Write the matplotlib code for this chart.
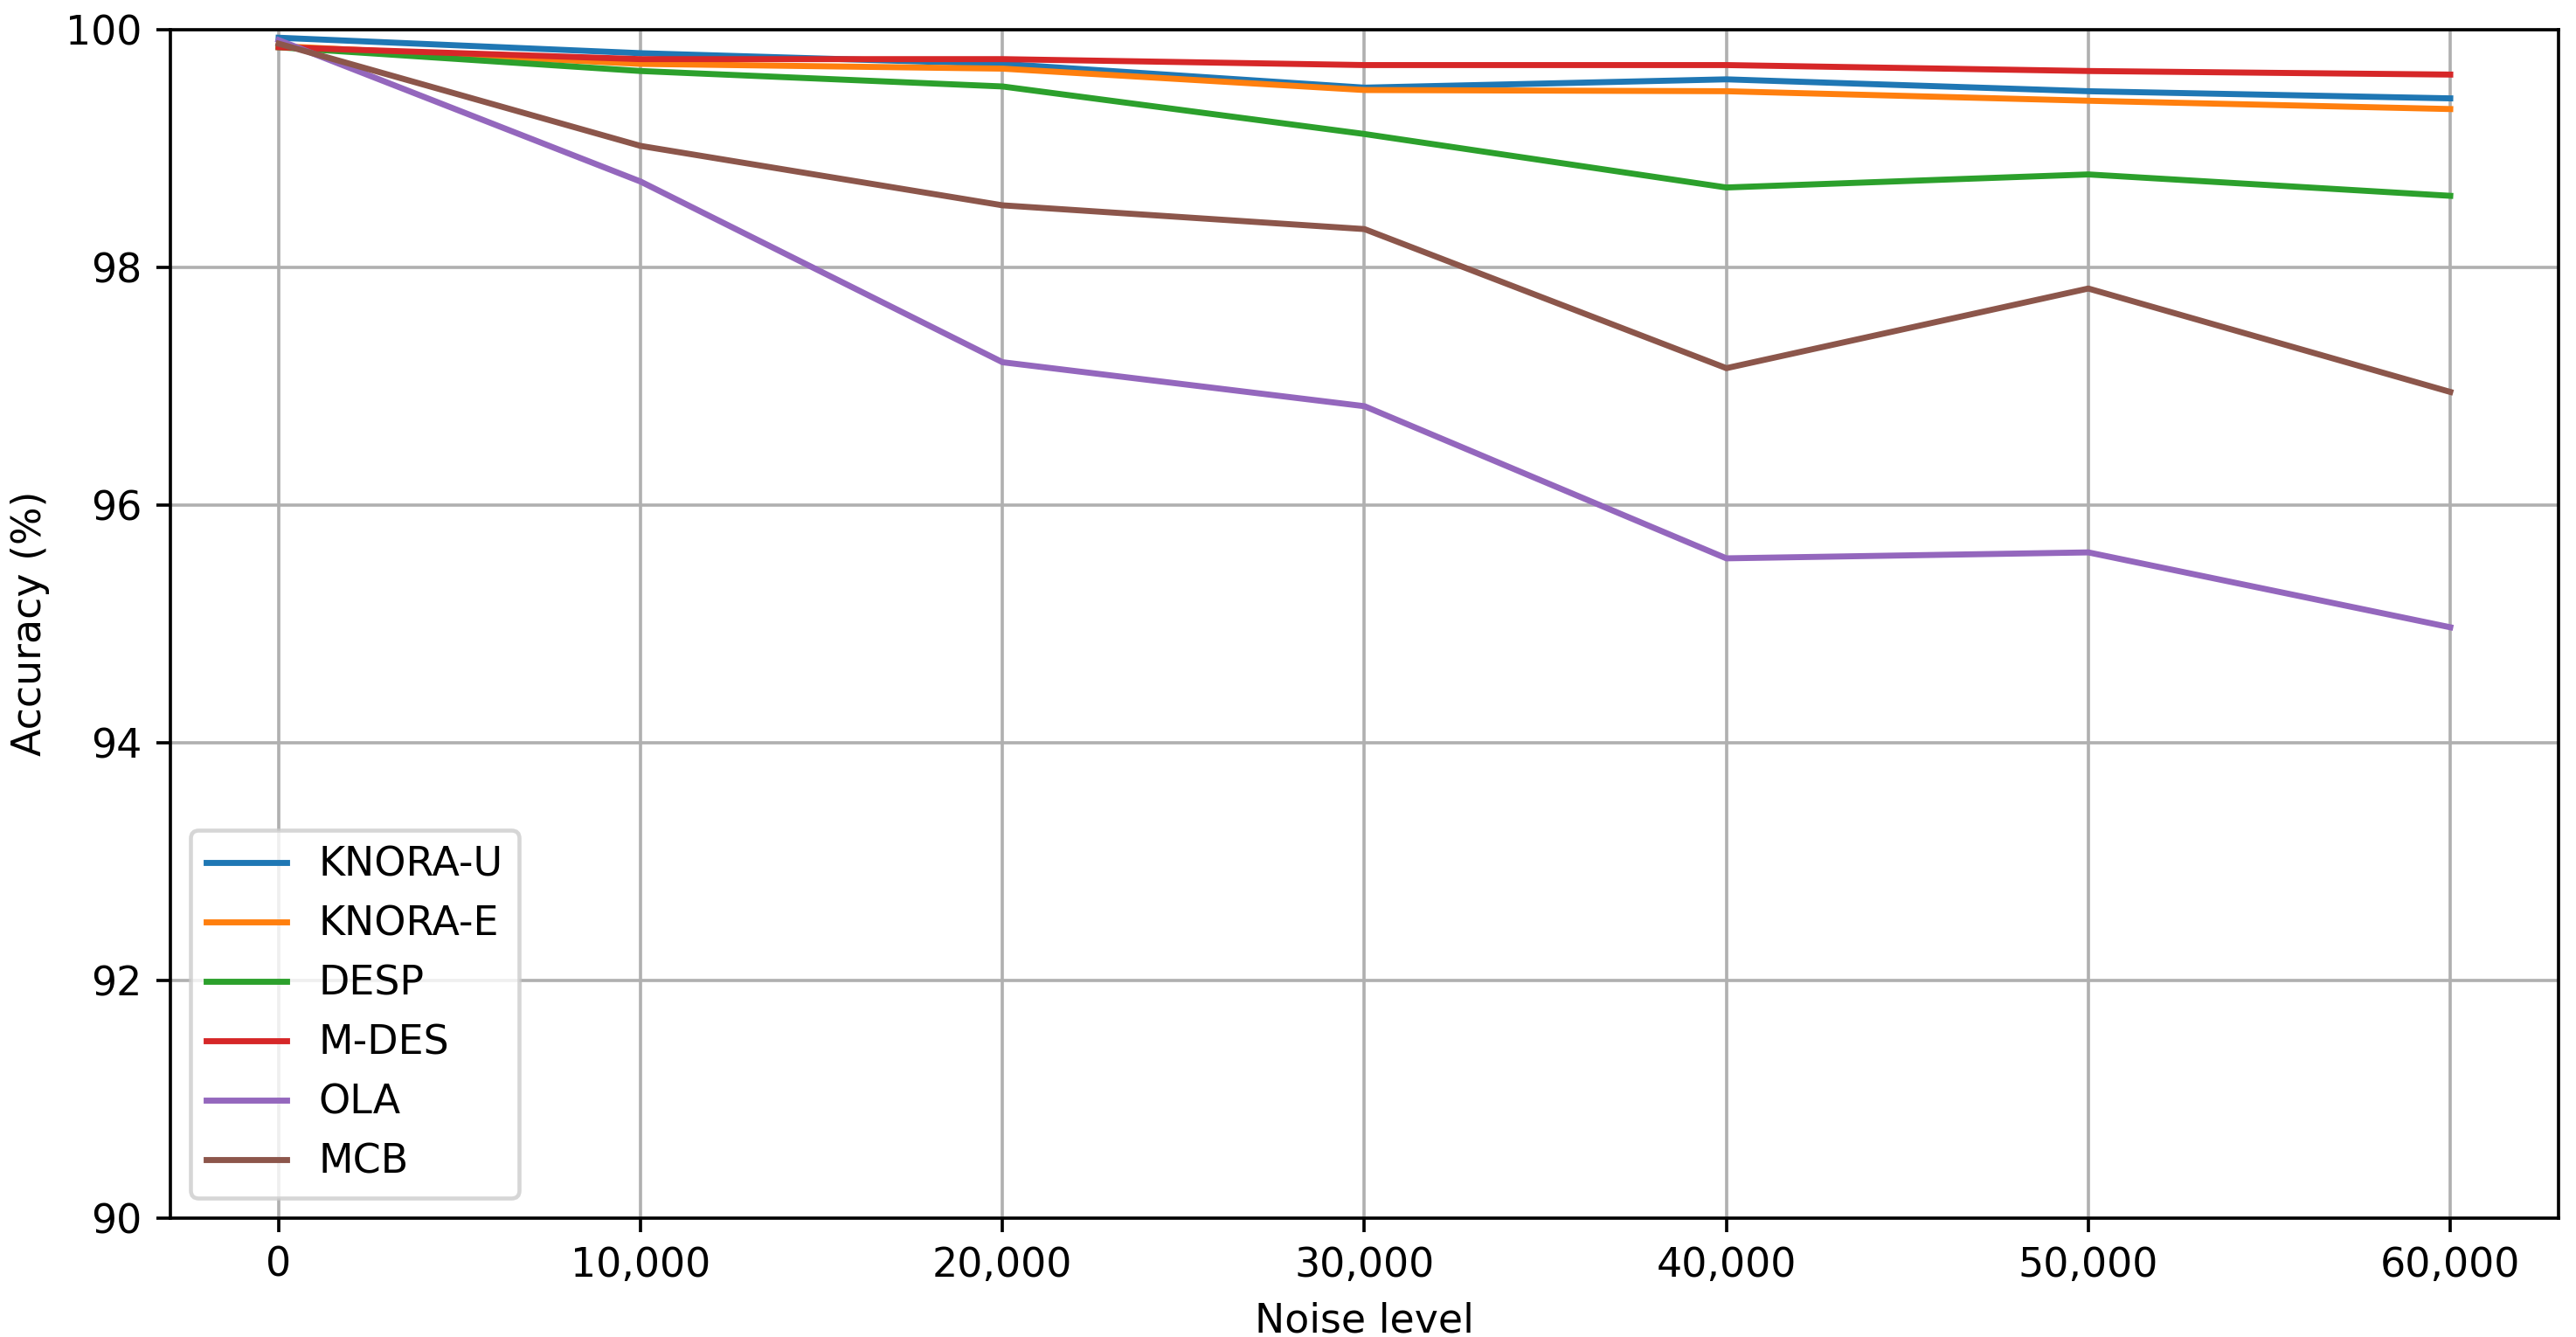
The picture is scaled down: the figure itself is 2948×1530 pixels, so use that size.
import matplotlib
matplotlib.use("Agg")
import matplotlib.pyplot as plt
from matplotlib.ticker import StrMethodFormatter

noise = [0, 10000, 20000, 30000, 40000, 50000, 60000]

knora_u = [99.93, 99.80, 99.71, 99.51, 99.58, 99.48, 99.42]
knora_e = [99.86, 99.71, 99.67, 99.49, 99.48, 99.40, 99.33]
desp = [99.85, 99.65, 99.52, 99.12, 98.67, 98.78, 98.60]
m_des = [99.85, 99.75, 99.75, 99.70, 99.70, 99.65, 99.62]
ola = [99.91, 98.72, 97.20, 96.83, 95.55, 95.60, 94.97]
mcb = [99.88, 99.02, 98.52, 98.32, 97.15, 97.82, 96.95]

names = ["KNORA-U", "KNORA-E", "DESP", "M-DES", "OLA", "MCB"]
series = [knora_u, knora_e, desp, m_des, ola, mcb]

fig, ax = plt.subplots(figsize=(2949 / 330, 1530 / 330), dpi=330)

for name, vals in zip(names, series):
    ax.plot(noise, vals, label=name)

ax.set_ylim(90, 100)
ax.set_xticks(noise)
ax.xaxis.set_major_formatter(StrMethodFormatter("{x:,.0f}"))
ax.set_xlabel("Noise level")
ax.set_ylabel("Accuracy (%)")
ax.grid(True)
ax.legend(loc="lower left")

fig.subplots_adjust(left=0.066, right=0.993, top=0.978, bottom=0.089)
fig.savefig("out.png", dpi=330)
